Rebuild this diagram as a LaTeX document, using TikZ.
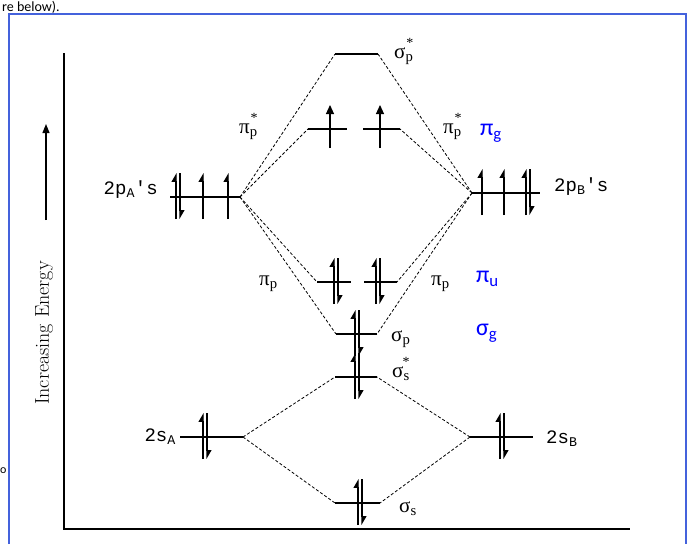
\documentclass[tikz,border=0pt]{standalone}
\usepackage{fontspec}
\newfontfamily\lmono{Liberation Mono}
\newfontfamily\gserif{Liberation Serif}
\newfontfamily\calib{Carlito}
\usetikzlibrary{arrows.meta}
\definecolor{framecol}{RGB}{68,98,220}
\definecolor{labblue}{RGB}{0,0,255}
\newcommand\epair[2]{%
  \draw[elecL] (#1-2,#2+22) -- (#1-2,#2-24);
  \draw[elecL] (#1+2,#2-24) -- (#1+2,#2+22);}
\newcommand\eup[2]{\draw[elecL] (#1,#2+22) -- (#1,#2-24);}
\newcommand\efull[2]{\draw[elecF] (#1,#2+19) -- (#1,#2-24);}
% labelled orbital with a star above its subscript: name, position (base west), greek, subscript
\newcommand\starlab[4]{%
  \node[gk, anchor=base west] (#1) at (#2) {#3\textsubscript{#4}};
  \node[gks, anchor=base east] (#1s) at ([yshift=11pt]#1.base east) {*};}
\begin{document}
\begin{tikzpicture}[x=1pt,y=-1pt,
  lvl/.style={line width=1.3pt},
  conn/.style={line width=0.8pt, dash pattern=on 3pt off 2pt},
  elecL/.style={line width=1.1pt, -{Triangle[left,length=8pt,width=9pt]}},
  elecF/.style={line width=1.1pt, -{Triangle[length=9pt,width=8pt]}},
  gk/.style={font=\gserif\fontsize{21}{22}\selectfont, inner sep=0pt},
  gks/.style={font=\gserif\fontsize{14}{15}\selectfont, inner sep=0pt},
  mo/.style={font=\lmono\fontsize{19}{22}\selectfont, inner sep=0pt},
  bl/.style={font=\calib\fontsize{24}{26}\selectfont, text=labblue, inner sep=0pt}]
\useasboundingbox (0,0) rectangle (688,544);
\fill[white] (0,0) rectangle (688,544);
% surrounding text and frame
\node[anchor=base west, font=\calib\fontsize{14}{16}\selectfont, inner sep=0pt] (top) at (2,11) {re below).};
\node[anchor=west, font=\calib\fontsize{12}{14}\selectfont, inner sep=0pt] (frag) at (0,471) {o};
\draw[framecol, line width=2pt] (9,544) -- (9,14) -- (686,14) -- (686,544);
% axes
\coordinate (ax0) at (64,53);
\coordinate (ax1) at (64,529);
\coordinate (ax2) at (630,529);
\draw[line width=1.3pt] (ax0) -- (ax1) -- (ax2);
\coordinate (eA) at (46,220);
\coordinate (eB) at (46,124);
\draw[line width=1.2pt, -{Triangle[length=9pt,width=7pt]}] (eA) -- (eB);
\node[rotate=90, font=\fontsize{20}{22}\selectfont, inner sep=0pt] (energy) at (44,333) {Increasing Energy};
% level end points
\coordinate (spsL) at (335,54);  \coordinate (spsR) at (378,54);
\coordinate (pis1L) at (308,129); \coordinate (pis1R) at (347,129);
\coordinate (pis2L) at (363,129); \coordinate (pis2R) at (400,129);
\coordinate (pAL) at (170,197);  \coordinate (pAR) at (240,197);
\coordinate (pBL) at (472,193);  \coordinate (pBR) at (540,193);
\coordinate (pi1L) at (317,282); \coordinate (pi1R) at (351,282);
\coordinate (pi2L) at (364,282); \coordinate (pi2R) at (397,282);
\coordinate (spL) at (336,334);  \coordinate (spR) at (377,334);
\coordinate (sssL) at (335,377); \coordinate (sssR) at (377,377);
\coordinate (sAL) at (180,437);  \coordinate (sAR) at (243,437);
\coordinate (sBL) at (470,437);  \coordinate (sBR) at (533,437);
\coordinate (ssL) at (335,503);  \coordinate (ssR) at (380,503);
% levels
\foreach \a/\b in {spsL/spsR,pis1L/pis1R,pis2L/pis2R,pAL/pAR,pBL/pBR,pi1L/pi1R,pi2L/pi2R,spL/spR,sssL/sssR,sAL/sAR,sBL/sBR,ssL/ssR}
  \draw[lvl] (\a) -- (\b);
% connectors
\draw[conn] (pAR) -- (spsL);
\draw[conn] (pAR) -- (pis1L);
\draw[conn] (pAR) -- (pi1L);
\draw[conn] (pAR) -- (spL);
\draw[conn] (pBL) -- (spsR);
\draw[conn] (pBL) -- (pis2R);
\draw[conn] (pBL) -- (pi2R);
\draw[conn] (pBL) -- (spR);
\draw[conn] (sAR) -- (sssL);
\draw[conn] (sAR) -- (ssL);
\draw[conn] (sBL) -- (sssR);
\draw[conn] (sBL) -- (ssR);
% electrons
\efull{330}{129}
\efull{380}{129}
\epair{178}{197} \eup{203}{197} \eup{228}{197}
\eup{482}{193} \eup{504}{193} \epair{528}{193}
\epair{336}{282} \epair{378}{282}
\epair{357}{334}
\epair{357}{377}
\epair{205}{437}
\epair{502}{437}
\epair{360}{503}
% labels
\starlab{lsps}{394,58}{σ}{p}
\starlab{lpisA}{239,133}{π}{p}
\starlab{lpisB}{443,133}{π}{p}
\starlab{lsss}{392,377}{σ}{s}
\node[bl, anchor=west] (lpig) at (480,133) {π\textsubscript{g}};
\node[mo, anchor=east] (lpA) at (158,190) {2p\textsubscript{A}'s};
\node[mo, anchor=west] (lpB) at (554,187) {2p\textsubscript{B}'s};
\node[gk, anchor=west] (lpiA) at (259,284) {π\textsubscript{p}};
\node[gk, anchor=west] (lpiB) at (431,284) {π\textsubscript{p}};
\node[bl, anchor=west] (lpiu) at (476,279) {π\textsubscript{u}};
\node[gk, anchor=west] (lsp) at (391,339) {σ\textsubscript{p}};
\node[bl, anchor=west] (lsg) at (476,333) {σ\textsubscript{g}};
\node[mo, anchor=east] (lsA) at (176,437) {2s\textsubscript{A}};
\node[mo, anchor=west] (lsB) at (546,439) {2s\textsubscript{B}};
\node[gk, anchor=west] (lss) at (399,509) {σ\textsubscript{s}};
\end{tikzpicture}
\end{document}
